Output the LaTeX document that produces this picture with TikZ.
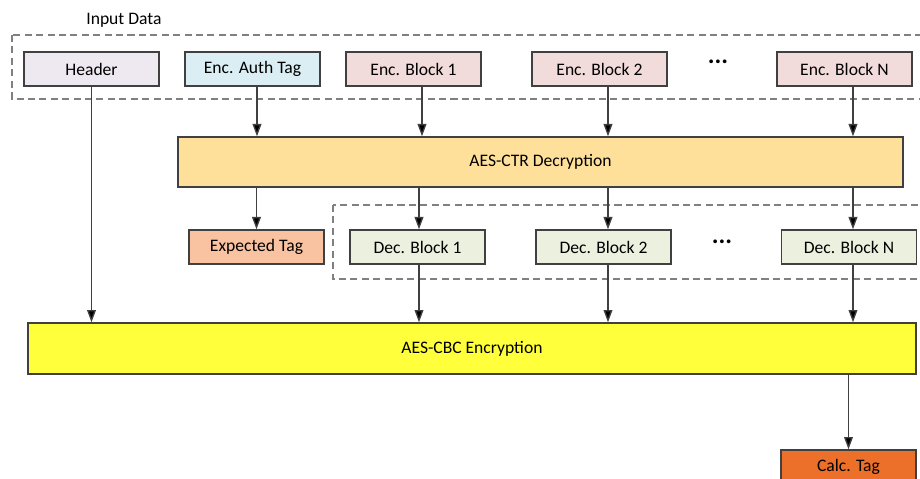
\documentclass[tikz,border=0pt]{standalone}
\usepackage{fontspec}
\setmainfont{Carlito}
\usetikzlibrary{arrows.meta}
\definecolor{hdrfill}{RGB}{238,232,240}
\definecolor{tagfill}{RGB}{218,238,243}
\definecolor{encfill}{RGB}{242,220,219}
\definecolor{ctrfill}{RGB}{255,224,155}
\definecolor{expfill}{RGB}{249,194,160}
\definecolor{decfill}{RGB}{235,241,222}
\definecolor{cbcfill}{RGB}{255,255,60}
\definecolor{calcfill}{RGB}{237,112,42}
\definecolor{edge}{RGB}{64,64,64}

\begin{document}
\begin{tikzpicture}[x=0.02cm,y=-0.02cm,
  box/.style={draw=edge,line width=0.8pt,minimum width=2.7cm,minimum height=0.68cm,inner sep=0,font=\fontsize{10}{12}\selectfont},
  wide/.style={box,minimum height=1cm},
  grpbox/.style={draw=gray,line width=0.9pt,dash pattern=on 4pt off 2.5pt},
  arr/.style={draw=edge,line width=0.75pt,-{Triangle[length=7pt,width=5pt,fill=black]}}]
\clip (0,0) rectangle (920,479);
\fill[white] (0,0) rectangle (920,479);
\draw[grpbox] (12,35) rectangle (940,99);
\draw[grpbox] (333,205) rectangle (940,279);
\node[anchor=west,inner sep=0,font=\fontsize{10}{12}\selectfont] (inlbl) at (86,20) {Input Data};
\node[box,fill=hdrfill] (hdr) at (91.5,69) {Header};
\node[box,fill=tagfill] (tag) at (252.5,69) {Enc. Auth Tag};
\node[box,fill=encfill] (eb1) at (413.5,69) {Enc. Block 1};
\node[box,fill=encfill] (eb2) at (599.5,69) {Enc. Block 2};
\node[font=\Large\bfseries] (edots) at (718,62) {...};
\node[box,fill=encfill] (ebn) at (844.5,69) {Enc. Block N};
\node[wide,fill=ctrfill,minimum width=14.5cm] (ctr) at (540.5,162) {AES-CTR Decryption};
\node[box,fill=expfill] (exp) at (256.5,247) {Expected Tag};
\node[box,fill=decfill] (db1) at (417.5,247) {Dec. Block 1};
\node[box,fill=decfill] (db2) at (603.5,247) {Dec. Block 2};
\node[font=\Large\bfseries] (ddots) at (722,242) {...};
\node[box,fill=decfill] (dbn) at (849,247) {Dec. Block N};
\node[wide,fill=cbcfill,minimum width=17.76cm,minimum height=1.02cm] (cbc) at (472,348.5) {AES-CBC Encryption};
\node[box,fill=calcfill] (calc) at (848.5,467) {Calc. Tag};
\draw[arr] (hdr.south) -- (hdr.south |- cbc.north);
\draw[arr] ([xshift=0.09cm]tag.south) -- ([xshift=0.09cm]tag.south |- ctr.north);
\draw[arr] ([xshift=0.17cm]eb1.south) -- ([xshift=0.17cm]eb1.south |- ctr.north);
\draw[arr] ([xshift=0.17cm]eb2.south) -- ([xshift=0.17cm]eb2.south |- ctr.north);
\draw[arr] ([xshift=0.17cm]ebn.south) -- ([xshift=0.17cm]ebn.south |- ctr.north);
\draw[arr] (exp.north |- ctr.south) -- (exp.north);
\draw[arr] ([xshift=0.03cm]db1.north |- ctr.south) -- ([xshift=0.03cm]db1.north);
\draw[arr] ([xshift=0.09cm]db2.north |- ctr.south) -- ([xshift=0.09cm]db2.north);
\draw[arr] ([xshift=0.08cm]dbn.north |- ctr.south) -- ([xshift=0.08cm]dbn.north);
\draw[arr] ([xshift=0.03cm]db1.south) -- ([xshift=0.03cm]db1.south |- cbc.north);
\draw[arr] ([xshift=0.09cm]db2.south) -- ([xshift=0.09cm]db2.south |- cbc.north);
\draw[arr] ([xshift=0.08cm]dbn.south) -- ([xshift=0.08cm]dbn.south |- cbc.north);
\draw[arr] (calc.north |- cbc.south) -- (calc.north);
\end{tikzpicture}
\end{document}
